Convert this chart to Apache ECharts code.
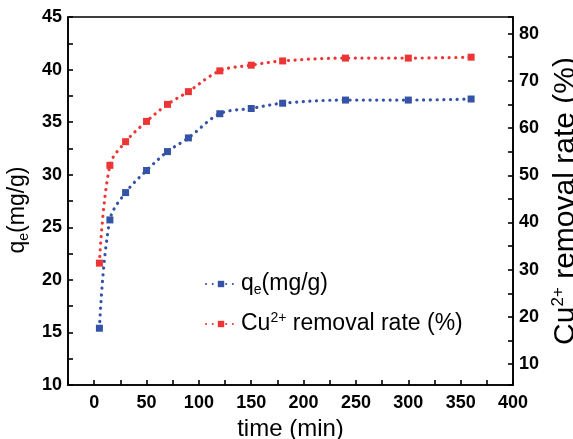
<!DOCTYPE html>
<html>
<head>
<meta charset="utf-8">
<script src="https://cdn.jsdelivr.net/npm/echarts@6/dist/echarts.min.js"></script>
<style>html,body{margin:0;padding:0;background:#fff;}#c{width:573px;height:439px;}</style>
</head>
<body>
<div id="c"></div>
<script>
var times = [5, 15, 30, 50, 70, 90, 120, 150, 180, 240, 300, 360];
var qeValues = [15.4, 25.7, 28.3, 30.4, 32.2, 33.5, 35.8, 36.3, 36.8, 37.1, 37.1, 37.2];
var removalValues = [31.4, 52.1, 57.1, 61.4, 65.0, 67.7, 72.1, 73.3, 74.2, 74.8, 74.8, 75.0];
var xTickLabels = [0, 50, 100, 150, 200, 250, 300, 350, 400];
var leftTickLabels = [10, 15, 20, 25, 30, 35, 40, 45];
var rightTickLabels = [10, 20, 30, 40, 50, 60, 70, 80];
var seriesNames = ['qe', 'cu'];

var BLUE = '#3453a6', RED = '#ee3535';
var FONT = '"Liberation Sans", Arial, sans-serif';

function pairs(xs, ys) { return xs.map(function (x, i) { return [x, ys[i]]; }); }

var chart = echarts.init(document.getElementById('c'), null, {renderer: 'canvas'});
var tickLabelStyle = {color: '#000', fontFamily: FONT, fontWeight: 'bold', fontSize: 18};
function axisLine() { return {show: true, onZero: false, lineStyle: {color: '#000', width: 1.6}}; }

var option = {
  backgroundColor: '#fff',
  animation: false,
  grid: {left: 68, right: 60, top: 17, bottom: 54, show: true, borderColor: '#000', borderWidth: 1.6,
         backgroundColor: 'transparent', containLabel: false, outerBoundsMode: 'none'},
  legend: {
    orient: 'vertical', left: 200, top: 266, itemWidth: 30, itemHeight: 8, itemGap: 14,
    data: seriesNames,
    formatter: function (n) {
      return n === 'qe' ? '{a|q}{sub|e}{a|(mg/g)}' : '{a|Cu}{sup|2+}{a| removal rate (%)}';
    },
    textStyle: {
      fontFamily: FONT, color: '#000', fontSize: 23, lineHeight: 26,
      rich: {
        a: {fontFamily: FONT, fontSize: 23, color: '#000', lineHeight: 26, verticalAlign: 'middle'},
        sub: {fontFamily: FONT, fontSize: 14, color: '#000', lineHeight: 26, verticalAlign: 'bottom'},
        sup: {fontFamily: FONT, fontSize: 14, color: '#000', lineHeight: 26, verticalAlign: 'top'}
      }
    }
  },
  xAxis: {
    type: 'value', min: -25, max: 400, interval: 25,
    name: 'time (min)', nameLocation: 'middle', nameGap: 30,
    nameTextStyle: {fontFamily: FONT, fontSize: 24, color: '#000'},
    axisLine: axisLine(),
    axisTick: {show: true, inside: true, length: 5, lineStyle: {color: '#000', width: 1.6}},
    axisLabel: Object.assign({margin: 9, formatter: function (v) { return xTickLabels.indexOf(v) >= 0 ? String(v) : ''; }}, tickLabelStyle),
    splitLine: {show: false}
  },
  yAxis: [{
    type: 'value', min: 10, max: 45, interval: 2.5, position: 'left',
    name: '{a|q}{sub|e}{a|(mg/g)}', nameLocation: 'middle', nameGap: 29, nameRotate: 90,
    nameTextStyle: {
      fontFamily: FONT, fontSize: 23, color: '#000', padding: [0, 18, 0, 0],
      rich: {
        a: {fontFamily: FONT, fontSize: 23, color: '#000', lineHeight: 26, verticalAlign: 'middle'},
        sub: {fontFamily: FONT, fontSize: 14, color: '#000', lineHeight: 26, verticalAlign: 'bottom'}
      }
    },
    axisLine: axisLine(),
    axisTick: {show: true, inside: true, length: 5, lineStyle: {color: '#000', width: 1.6}},
    axisLabel: Object.assign({margin: 6, formatter: function (v) { return leftTickLabels.indexOf(v) >= 0 ? String(v) : ''; }}, tickLabelStyle),
    splitLine: {show: false}
  }, {
    type: 'value', min: 5.6, max: 83.5, splitNumber: 16, position: 'right',
    name: '{a|Cu}{sup|2+}{a| removal rate (%)}', nameLocation: 'middle', nameGap: 33, nameRotate: 90,
    nameTextStyle: {
      fontFamily: FONT, fontSize: 30, color: '#000',
      rich: {
        a: {fontFamily: FONT, fontSize: 30, color: '#000', lineHeight: 32, verticalAlign: 'middle'},
        sup: {fontFamily: FONT, fontSize: 17, color: '#000', lineHeight: 32, verticalAlign: 'top'}
      }
    },
    axisLine: axisLine(),
    axisTick: {show: true, inside: true, length: 5, lineStyle: {color: '#000', width: 1.6}},
    axisLabel: Object.assign({margin: 6, formatter: function (v) { return rightTickLabels.indexOf(v) >= 0 ? String(v) : ''; }}, tickLabelStyle),
    splitLine: {show: false}
  }],
  series: [{
    name: 'qe', type: 'line', yAxisIndex: 0, data: pairs(times, qeValues),
    smooth: 0.35, symbol: 'rect', symbolSize: 7,
    itemStyle: {color: BLUE},
    lineStyle: {color: BLUE, width: 3.2, type: [0.1, 6.6], cap: 'round'}
  }, {
    name: 'cu', type: 'line', yAxisIndex: 1, data: pairs(times, removalValues),
    smooth: 0.35, symbol: 'rect', symbolSize: 7,
    itemStyle: {color: RED},
    lineStyle: {color: RED, width: 3.2, type: [0.1, 6.6], cap: 'round'}
  }]
};
chart.setOption(option);
</script>
</body>
</html>
